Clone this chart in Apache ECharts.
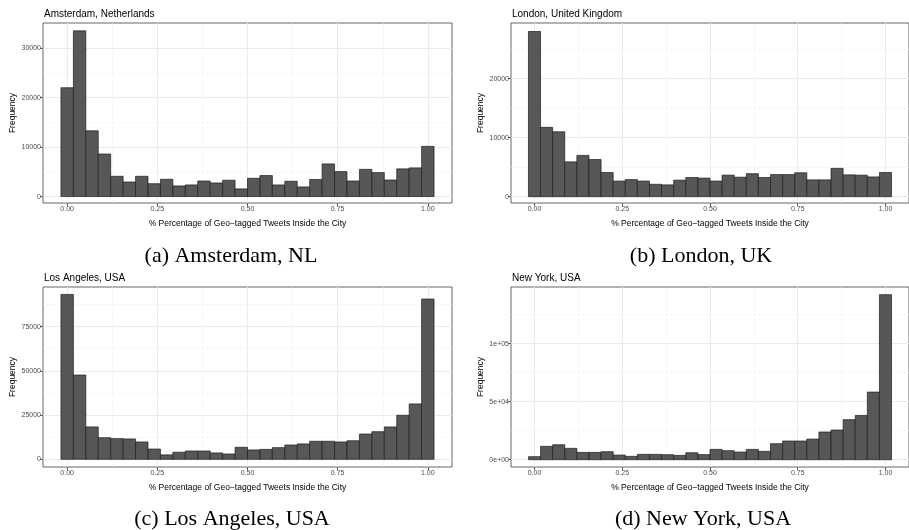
<!DOCTYPE html>
<html>
<head>
<meta charset="utf-8">
<title>Geo-tagged tweets inside the city</title>
<script src="https://cdn.jsdelivr.net/npm/echarts@6.0.0/dist/echarts.min.js"></script>
<style>
html,body{margin:0;padding:0;background:#fff;}
#main{width:909px;height:530px;}
</style>
</head>
<body>
<div id="main"></div>
<script>
// 30 bins over [0,1], bin width 1/29 (ggplot bins=30)
var binWidth = 1 / 29;
var binCenters = [];
for (var i = 0; i < 30; i++) { binCenters.push(i * binWidth); }

var amsterdam = [22000, 33500, 13300, 8600, 4100, 2950, 4100, 2600, 3500, 2150,
                 2350, 3150, 2750, 3300, 1550, 3700, 4250, 2350, 3100, 1950,
                 3450, 6600, 5050, 3150, 5500, 4850, 3350, 5600, 5800, 10150];
var london = [28000, 11750, 11000, 5900, 7000, 6300, 4100, 2650, 2900, 2650,
              2100, 2000, 2800, 3250, 3150, 2650, 3650, 3300, 3900, 3250,
              3750, 3750, 4050, 2850, 2850, 4800, 3700, 3650, 3350, 4100];
var losAngeles = [93200, 47600, 18300, 12200, 11700, 11500, 9800, 5800, 2500, 4000,
                  4700, 4700, 3600, 3000, 6800, 5300, 5600, 6600, 8100, 8700,
                  10200, 10200, 9800, 10500, 14300, 15600, 18300, 24900, 31300, 90600];
var newYork = [2600, 11500, 12900, 9800, 6300, 6300, 6900, 4000, 2900, 4600,
               4600, 4300, 3700, 6000, 4400, 8900, 7800, 6600, 8900, 7200,
               13800, 16100, 16100, 17800, 23900, 25600, 34500, 38200, 58300, 142300];

var xTicks = [0, 0.25, 0.5, 0.75, 1];
var xTickLabels = ['0.00', '0.25', '0.50', '0.75', '1.00'];
var xMinorTicks = [0.125, 0.375, 0.625, 0.875];

var yTicksA = [0, 10000, 20000, 30000];
var yLabelsA = ['0', '10000', '20000', '30000'];
var yMinorA = [5000, 15000, 25000];
var yTicksB = [0, 10000, 20000];
var yLabelsB = ['0', '10000', '20000'];
var yMinorB = [5000, 15000, 25000];
var yTicksC = [0, 25000, 50000, 75000];
var yLabelsC = ['0', '25000', '50000', '75000'];
var yMinorC = [12500, 37500, 62500, 87500];
var yTicksD = [0, 50000, 100000];
var yLabelsD = ['0e+00', '5e+04', '1e+05'];
var yMinorD = [25000, 75000, 125000];

var xTitle = '% Percentage of Geo\u2212tagged Tweets Inside the City';
var yTitle = 'Frequency';

var sans = '"Liberation Sans", Arial, sans-serif';
var serif = '"Liberation Serif", "Times New Roman", serif';

var panels = [
    {title: 'Amsterdam, Netherlands', caption: '(a) Amsterdam, NL', data: amsterdam,
     yTicks: yTicksA, yLabels: yLabelsA, yMinor: yMinorA, yMin: -1300, yMax: 35090,
     left: 43, top: 23, capX: 231, capY: 256},
    {title: 'London, United Kingdom', caption: '(b) London, UK', data: london,
     yTicks: yTicksB, yLabels: yLabelsB, yMinor: yMinorB, yMin: -1070, yMax: 29440,
     left: 511, top: 23, capX: 701, capY: 256},
    {title: 'Los Angeles, USA', caption: '(c) Los Angeles, USA', data: losAngeles,
     yTicks: yTicksC, yLabels: yLabelsC, yMinor: yMinorC, yMin: -4350, yMax: 97390,
     left: 43, top: 287, capX: 232, capY: 519},
    {title: 'New York, USA', caption: '(d) New York, USA', data: newYork,
     yTicks: yTicksD, yLabels: yLabelsD, yMinor: yMinorD, yMin: -6290, yMax: 148880,
     left: 511, top: 287, capX: 703, capY: 519}
];

var xMin = -0.067, xMax = 1.067;

function labelFormatter(values, labels) {
    return function (v) {
        for (var k = 0; k < values.length; k++) {
            if (Math.abs(values[k] - v) < 1e-9) return labels[k];
        }
        return '';
    };
}

function renderBin(params, api) {//直方图柱子
    var x = api.value(0), y = api.value(1);
    var p0 = api.coord([x - binWidth / 2, y]);
    var p1 = api.coord([x + binWidth / 2, 0]);
    return {
        type: 'rect',
        shape: {x: p0[0], y: p0[1], width: p1[0] - p0[0], height: p1[1] - p0[1]},
        style: {fill: '#575757', stroke: '#1e1e1e', lineWidth: 0.7}
    };
}

var option = {
    animation: false,
    backgroundColor: '#fff',
    title: [], grid: [], xAxis: [], yAxis: [], series: [], graphic: []
};

panels.forEach(function (p, i) {
    option.title.push({
        text: p.title, left: p.left + 1, top: p.top - 14, padding: 0,
        textStyle: {fontSize: 10, fontWeight: 'normal', color: '#000', fontFamily: sans}
    });
    option.grid.push({
        left: p.left, top: p.top, width: 409, height: 180,
        show: true, backgroundColor: '#fff', borderColor: '#666', borderWidth: 1
    });
    // major x
    option.xAxis.push({
        type: 'value', gridIndex: i, min: xMin, max: xMax, position: 'bottom',
        axisLine: {show: false, onZero: false},
        axisTick: {show: true, length: 3, customValues: xTicks, lineStyle: {color: '#333', width: 0.8}},
        axisLabel: {customValues: xTicks, formatter: labelFormatter(xTicks, xTickLabels),
                    fontSize: 7, color: '#4d4d4d', margin: 3, fontFamily: sans},
        splitLine: {show: true, lineStyle: {color: '#ebebeb', width: 1}},
        name: xTitle, nameLocation: 'middle', nameGap: 16,
        nameTextStyle: {fontSize: 8.5, color: '#000', fontFamily: sans}
    });
    // minor x
    option.xAxis.push({
        type: 'value', gridIndex: i, min: xMin, max: xMax, position: 'top',
        axisLine: {show: false, onZero: false},
        axisTick: {show: false, customValues: xMinorTicks},
        axisLabel: {show: false},
        splitLine: {show: true, lineStyle: {color: '#f4f4f4', width: 0.6}}
    });
    // major y
    option.yAxis.push({
        type: 'value', gridIndex: i, min: p.yMin, max: p.yMax, position: 'left',
        axisLine: {show: false, onZero: false},
        axisTick: {show: true, length: 3, customValues: p.yTicks, lineStyle: {color: '#333', width: 0.8}},
        axisLabel: {customValues: p.yTicks, formatter: labelFormatter(p.yTicks, p.yLabels),
                    fontSize: 7, color: '#4d4d4d', margin: 2, fontFamily: sans},
        splitLine: {show: true, lineStyle: {color: '#ebebeb', width: 1}},
        name: yTitle, nameLocation: 'middle', nameGap: 22,
        nameTextStyle: {fontSize: 8.5, color: '#000', fontFamily: sans}
    });
    // minor y
    option.yAxis.push({
        type: 'value', gridIndex: i, min: p.yMin, max: p.yMax, position: 'right',
        axisLine: {show: false, onZero: false},
        axisTick: {show: false, customValues: p.yMinor},
        axisLabel: {show: false},
        splitLine: {show: true, lineStyle: {color: '#f4f4f4', width: 0.6}}
    });
    option.series.push({
        type: 'custom', xAxisIndex: i * 2, yAxisIndex: i * 2, silent: true,
        renderItem: renderBin,
        data: binCenters.map(function (c, k) { return [c, p.data[k]]; })
    });
    option.graphic.push({
        type: 'text', x: p.capX, y: p.capY, silent: true,
        style: {text: p.caption, fill: '#000', font: '22px ' + serif,
                textAlign: 'center', textVerticalAlign: 'middle'}
    });
});

var myChart = echarts.init(document.getElementById('main'), null, {renderer: 'canvas'});
myChart.setOption(option);
</script>
</body>
</html>
